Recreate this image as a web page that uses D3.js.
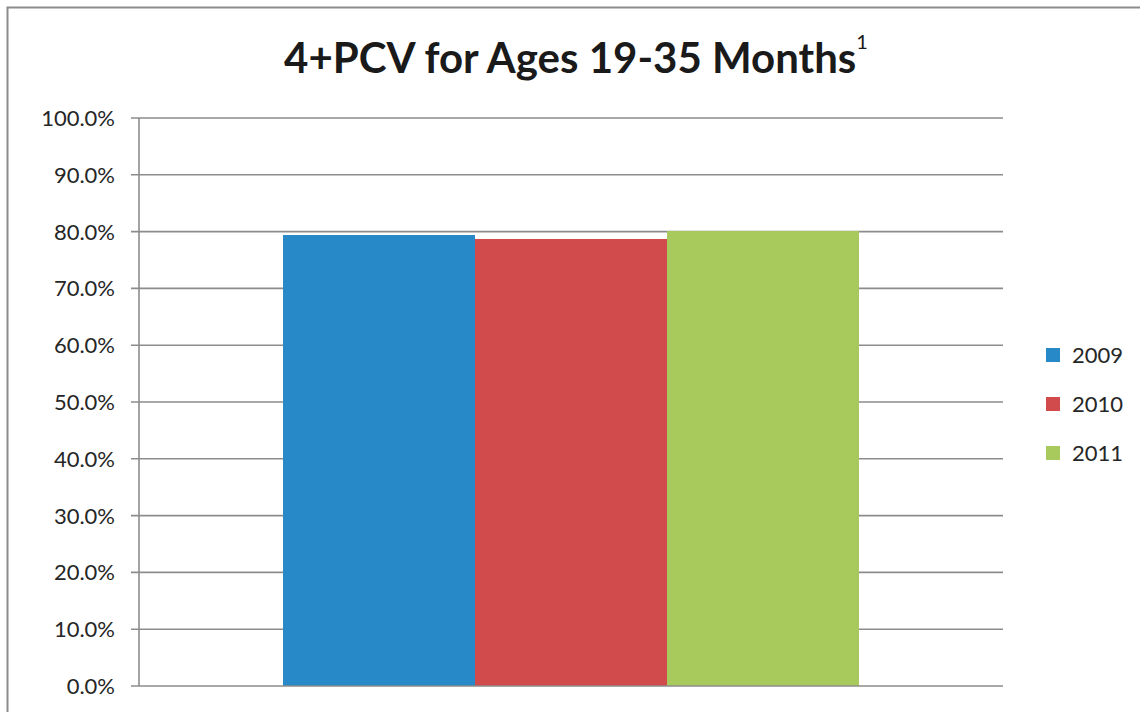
<!DOCTYPE html>
<html>
<head>
<meta charset="utf-8">
<script src="https://cdn.jsdelivr.net/npm/d3@7"></script>
<style>
  body { margin: 0; background: #fff; }
  text { font-family: Lato, "Open Sans", sans-serif; }
</style>
</head>
<body>
<svg id="chart" width="1140" height="712"></svg>
<script>
var years = ['2009', '2010', '2011'],
    values = [79.4, 78.7, 80.1],
    colors = ['#2789c8', '#d24b4c', '#a8c95b'],
    yTicks = [0, 10, 20, 30, 40, 50, 60, 70, 80, 90, 100],
    category = ['4+PCV'];

var svg = d3.select('#chart'),
    plotLeft = 139, plotRight = 1003, plotTop = 118, plotBottom = 686;

// outer frame (left + top edges visible)
svg.append('path')
   .attr('d', 'M7.5,712 V7.5 H1140')
   .attr('fill', 'none')
   .attr('stroke', '#8c8c8c')
   .attr('stroke-width', 2);

var y = d3.scaleLinear().domain([0, 100]).range([plotBottom, plotTop]);

// gap width 50% -> outer padding of a quarter band on each side
var x0 = d3.scaleBand().domain(category).range([plotLeft, plotRight]).paddingInner(0).paddingOuter(0.25);
var x1 = d3.scaleBand().domain(years).range([0, x0.bandwidth()]);

// gridlines
svg.append('g').selectAll('line')
   .data(yTicks.filter(function(d) { return d > 0; }))
   .enter().append('line')
   .attr('x1', plotLeft - 8).attr('x2', plotRight)
   .attr('y1', function(d) { return y(d); })
   .attr('y2', function(d) { return y(d); })
   .attr('stroke', '#8c8c8c')
   .attr('stroke-width', 1.6);

// bars
var bars = svg.append('g').attr('transform', 'translate(' + x0(category[0]) + ',0)');
bars.selectAll('rect')
    .data(values)
    .enter().append('rect')
    .attr('x', function(d, i) { return x1(years[i]); })
    .attr('width', x1.bandwidth())
    .attr('y', function(d) { return y(d); })
    .attr('height', function(d) { return y(0) - y(d); })
    .attr('fill', function(d, i) { return colors[i]; });

// y axis line and baseline
svg.append('line')
   .attr('x1', plotLeft).attr('x2', plotLeft)
   .attr('y1', plotTop).attr('y2', plotBottom)
   .attr('stroke', '#8c8c8c').attr('stroke-width', 1.6);
svg.append('line')
   .attr('x1', plotLeft - 8).attr('x2', plotRight)
   .attr('y1', plotBottom).attr('y2', plotBottom)
   .attr('stroke', '#8c8c8c').attr('stroke-width', 1.6);

// tick labels
svg.append('g').selectAll('text')
   .data(yTicks)
   .enter().append('text')
   .attr('x', 115)
   .attr('y', function(d) { return y(d); })
   .attr('dy', '0.36em')
   .attr('text-anchor', 'end')
   .attr('font-size', 22)
   .attr('fill', '#262626')
   .text(function(d) { return d.toFixed(1) + '%'; });

// title
var title = svg.append('text')
   .attr('x', 576)
   .attr('y', 73)
   .attr('text-anchor', 'middle')
   .attr('font-size', 42)
   .attr('font-weight', 'bold')
   .attr('fill', '#1a1a1a');
title.append('tspan').text('4+PCV for Ages 19-35 Months');
title.append('tspan')
   .attr('font-size', 20)
   .attr('font-weight', 'normal')
   .attr('dy', -24)
   .text('1');

// legend
var legend = svg.append('g').selectAll('g')
   .data(years)
   .enter().append('g')
   .attr('transform', function(d, i) { return 'translate(1046,' + (348 + i * 49) + ')'; });
legend.append('rect')
   .attr('width', 14).attr('height', 14)
   .attr('fill', function(d, i) { return colors[i]; });
legend.append('text')
   .attr('x', 26).attr('y', 7)
   .attr('dy', '0.36em')
   .attr('font-size', 22)
   .attr('fill', '#262626')
   .text(function(d) { return d; });
</script>
</body>
</html>
